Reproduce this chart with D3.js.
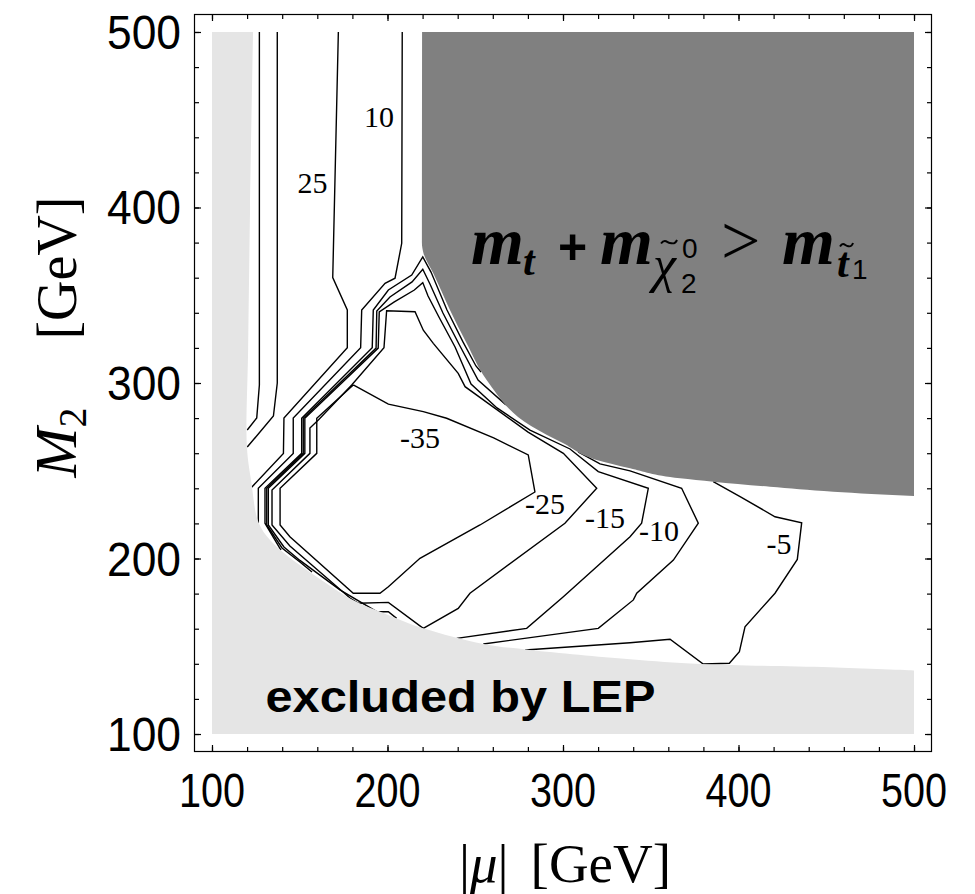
<!DOCTYPE html>
<html>
<head>
<meta charset="utf-8">
<script src="https://cdn.jsdelivr.net/npm/d3@7"></script>
<style>
  body { margin: 0; background: #fff; }
</style>
</head>
<body>
<div id="chart"></div>
<script>
// axis ticks (GeV)
const majorTicks = [100, 200, 300, 400, 500];
const minorTicks = [100, 120, 140, 160, 180, 200, 220, 240, 260, 280, 300,
                    320, 340, 360, 380, 400, 420, 440, 460, 480, 500];

// shaded regions: boundary points [|mu|, M2]
const lepBoundary = [[123.4,500],[121.7,400],[120.6,320],[119.9,263.5],[122.5,243],[126,222],
  [131,213],[140,204],[154,193.4],[167.2,184.5],[180,176.5],[200,168],[220.4,160.2],
  [254.6,151.3],[281.2,147.9],[338.2,142.6],[378.1,139.9],[452.1,138],[500,136.2]];
const stopBoundary = [[500,235.6],[454,238.1],[417.9,240.9],[385.6,243.8],[366.7,245.7],
  [338.2,251.4],[319.2,256.1],[300.2,265.6],[281.8,275.5],[256.5,301.7],[245.1,322.6],
  [235.6,341.6],[226.1,362.5],[220.5,374],[219.6,380],[219.7,500]];

// contour lines [|mu|, M2]
const contourA = [[127,500],[127,298.9],[125.5,280.1],[120.1,273.2]];
const contourB = [[137.2,500],[137.2,300],[135,281.2],[120.1,263.5]];
const contour25 = [[172,500],[168.8,360.1],[177.1,341.6],[177.1,320.1],[141,280.1],[140.7,259.9],[122.6,240.6]];
const contour10 = [[208.4,500],[208.1,379.6],[204.3,359.7],[198.6,356.8],[185.3,341.6],[184.7,320.1],
  [146.3,280.1],[146.3,259.9],[126.4,240],[126.4,220.1]];
const contourE = [[139.3,204.8],[130.2,220.1],[130.2,240],[151.1,259.9],[151.1,279.9],[191.3,320.1],
  [191.9,341.6],[200.5,353],[213.8,361.5],[220.1,371.8],[224.8,363.2],[233.9,341.6],[243,323.4],
  [250.4,309.7],[253.3,306.3]];
const contourF = [[157,192.3],[150.1,198],[139.9,206],[131.2,219.1],[131.2,240],[152,259.9],[152,279.9],
  [193.5,319.9],[193.9,341],[201.4,349],[214,357.6],[220.1,364.8],[224.2,356.4],[231.6,339.9],
  [240.7,322.2],[251.6,301.7],[267,288],[271.5,285.8]];
const contourG = [[205.2,165.9],[200.5,169.7],[193.9,169.7],[172.9,182.1],[150.1,198.9],[141,206.6],
  [132.1,219.1],[132.1,240],[152.9,259.9],[152.9,279.9],[194.7,319.9],[195.3,340.5],[203.9,346.2],
  [215.3,353],[220.1,357.2],[223.1,349.6],[229.3,337.6],[238.5,320.5],[247.6,299.4],[262.4,285.8],
  [281.2,273.2],[304,262.4],[320.1,249.5],[348.6,240],[344.8,220.1],[338.2,212.4],[300.2,178.2],
  [279.3,160.2],[239.4,154.5]];
const contourJ = [[160.6,278.9],[155.8,274.4],[155.8,259.9],[134.2,239],[134.2,219.1],[144.4,207.1],
  [178.6,177.5],[183.4,174.5],[200.5,175],[220.4,160.2],[240.3,171.6],[247,180.2],[301.1,220.1],
  [319.2,240],[300.2,259.9],[280.1,272],[244.2,297.9],[240.3,305.5],[226.1,322.6],[220.4,330.1],
  [215.7,340.6],[199.5,341.2],[198,320.1],[179.6,298.9],[160.6,278.9]];
const contourI = [[180.5,298.9],[200.5,288],[220.4,283.7],[233.7,279.9],[260.5,268.7],[280.2,259],
  [284,237.9],[252.7,219.1],[218.5,200.1],[200.5,183.9],[195.7,180.2],[180.5,180.2],[144.4,212.4],
  [138.8,219.1],[138.8,240],[159.7,259.9],[159.7,279.9],[180.5,298.9]];
const contourL4 = [[308.6,260.7],[321.1,253.9],[338.2,249.9],[367.6,240],[377.1,220.1],[362.9,199.1],
  [342,180.2],[340.1,176.4],[320.1,160.2],[254.6,151.3]];
const contourL5 = [[385.6,243.8],[400.9,235.2],[420.8,223.8],[436,220.4],[433.5,199.5],[420.8,180.2],
  [403.7,161.1],[400.5,146.9],[394.8,140.3],[379.9,139.9],[361,154],[338.2,152],[278.4,147.9]];

const contours = [contourA, contourB, contour25, contour10, contourE, contourF,
                  contourG, contourJ, contourI, contourL4, contourL5];

// contour labels
const labelText = ["10", "25", "-35", "-25", "-15", "-10", "-5"];
const labelMu   = [195.2, 157.3, 218.5, 289.7, 323.9, 354.7, 423.1];
const labelM2   = [451.6, 414.0, 269.2, 231.6, 223.4, 216.2, 208.3];

const width = 975, height = 894;
const svg = d3.select("#chart").append("svg")
    .attr("width", width)
    .attr("height", height);

const x = d3.scaleLinear().domain([89.75, 510.25]).range([194, 932]);
const y = d3.scaleLinear().domain([89.75, 510.25]).range([752, 14]);

svg.append("clipPath").attr("id", "plotclip")
  .append("rect")
    .attr("x", x(100)).attr("y", y(500))
    .attr("width", x(500) - x(100)).attr("height", y(100) - y(500));

var plot = svg.append("g").attr("clip-path", "url(#plotclip)");

// contour lines first, shaded regions painted over their ends
const line = d3.line().x(d => x(d[0])).y(d => y(d[1]));
plot.selectAll(".contour")
  .data(contours)
  .enter().append("path")
    .attr("class", "contour")
    .attr("d", line)
    .attr("fill", "none")
    .attr("stroke", "#000")
    .attr("stroke-width", 1.4)
    .attr("stroke-linejoin", "miter");

// LEP excluded region
const edge = d3.line().x(d => x(d[0])).y(d => y(d[1])).curve(d3.curveCatmullRom);
plot.append("path")
    .attr("d", `M${x(100)},${y(100)}L${x(100)},${y(500)}` +
               edge(lepBoundary).replace(/^M/, "L") +
               `L${x(500)},${y(100)}Z`)
    .attr("fill", "#e5e5e5");

// m_t + m_chi > m_stop region
const stopArea = d3.area()
    .y(d => y(d[1]))
    .x0(d => x(d[0]))
    .x1(x(500))
    .curve(d3.curveMonotoneY);
plot.append("path")
    .attr("d", stopArea(stopBoundary))
    .attr("fill", "#808080");

// frame
svg.append("rect")
    .attr("x", 194.5).attr("y", 14.5)
    .attr("width", 737).attr("height", 737)
    .attr("fill", "none")
    .attr("stroke", "#000")
    .attr("stroke-width", 1.2);

// inward ticks on all four sides
function ticks(axis, tr, vals, size) {
  svg.append("g")
    .attr("transform", tr)
    .call(axis.tickValues(vals).tickSize(-size).tickSizeOuter(0).tickFormat(""))
    .call(g => g.select(".domain").remove())
    .call(g => g.selectAll("line").attr("stroke", "#000").attr("stroke-width", 1.2));
}
ticks(d3.axisBottom(x), "translate(0,751)", minorTicks, 4);
ticks(d3.axisBottom(x), "translate(0,751)", majorTicks, 6);
ticks(d3.axisTop(x), "translate(0,15)", minorTicks, 4);
ticks(d3.axisTop(x), "translate(0,15)", majorTicks, 6);
ticks(d3.axisLeft(y), "translate(195,0)", minorTicks, 4);
ticks(d3.axisLeft(y), "translate(195,0)", majorTicks, 6);
ticks(d3.axisRight(y), "translate(931,0)", minorTicks, 4);
ticks(d3.axisRight(y), "translate(931,0)", majorTicks, 6);

// tick labels
const tickFont = "'Liberation Sans', Arial, sans-serif";
svg.selectAll(".xlab")
  .data(majorTicks)
  .enter().append("text")
    .attr("class", "xlab")
    .attr("x", d => x(d))
    .attr("y", 807)
    .attr("text-anchor", "middle")
    .attr("font-family", tickFont)
    .attr("font-size", 48)
    .attr("textLength", 66)
    .attr("lengthAdjust", "spacingAndGlyphs")
    .text(d => d);

svg.selectAll(".ylab")
  .data(majorTicks)
  .enter().append("text")
    .attr("class", "ylab")
    .attr("x", 181)
    .attr("y", d => y(d) + 17)
    .attr("text-anchor", "end")
    .attr("font-family", tickFont)
    .attr("font-size", 48)
    .attr("textLength", 74)
    .attr("lengthAdjust", "spacingAndGlyphs")
    .text(d => d);

// contour labels
svg.selectAll(".clab")
  .data(labelText)
  .enter().append("text")
    .attr("class", "clab")
    .attr("x", (d, i) => x(labelMu[i]))
    .attr("y", (d, i) => y(labelM2[i]))
    .attr("dy", "0.35em")
    .attr("text-anchor", "middle")
    .attr("font-family", "'Liberation Serif', 'DejaVu Serif', serif")
    .attr("font-size", 30)
    .text(d => d);

// region annotations
svg.append("text")
    .attr("x", x(130.5))
    .attr("y", y(112.5))
    .attr("font-family", "'Liberation Sans', Arial, sans-serif")
    .attr("font-weight", "bold")
    .attr("font-size", 45)
    .attr("textLength", 390)
    .attr("lengthAdjust", "spacingAndGlyphs")
    .text("excluded by LEP");

// m_t + m_chi20 > m_stop1, set piece by piece from an anchor
const serif = "'Liberation Serif', serif", sans = "'Liberation Sans', sans-serif";
const mathParts = [
  // text, dx, dy, size, family, weight, style
  ["m",  0,   0, 68, serif, "bold",   "italic"],
  ["t", 52,  11, 42, serif, "bold",   "italic"],
  ["+", 87,   0, 50, sans,  "bold",   "normal"],
  ["m", 129,  0, 68, serif, "bold",   "italic"],
  ["\u03C7", 182, 18, 52, serif, "normal", "italic"],
  ["0", 211, -6, 28, sans,  "normal", "normal"],
  ["2", 210, 29, 28, sans,  "normal", "normal"],
  [">", 250,  0, 70, serif, "normal", "normal"],
  ["m", 311,  0, 68, serif, "bold",   "italic"],
  ["t", 366, 13, 42, serif, "bold",   "italic"],
  ["1", 381, 15, 28, sans,  "normal", "normal"]
];
// tildes over chi and t: [dx, dy, width]
const tildes = [[190, -22, 16], [369, -19, 13]];

const mx = x(247.6), my = y(367.8);
svg.selectAll(".math")
  .data(mathParts)
  .enter().append("text")
    .attr("class", "math")
    .attr("x", d => mx + d[1])
    .attr("y", d => my + d[2])
    .attr("font-size", d => d[3])
    .attr("font-family", d => d[4])
    .attr("font-weight", d => d[5])
    .attr("font-style", d => d[6])
    .text(d => d[0]);

svg.selectAll(".tilde")
  .data(tildes)
  .enter().append("path")
    .attr("class", "tilde")
    .attr("d", d => {
      const x0 = mx + d[0], y0 = my + d[1], w = d[2];
      return `M${x0},${y0 + 1.5}C${x0 + w * 0.25},${y0 - 4} ${x0 + w * 0.4},${y0 + 1} ${x0 + w * 0.55},${y0 + 1}` +
             `S${x0 + w * 0.85},${y0 + 3} ${x0 + w},${y0 - 2}`;
    })
    .attr("fill", "none")
    .attr("stroke", "#000")
    .attr("stroke-width", 2);

// axis titles
const xt = svg.append("text")
    .attr("x", 565)
    .attr("y", 882)
    .attr("text-anchor", "middle")
    .attr("font-family", serif)
    .attr("font-size", 55);
xt.append("tspan").text("|");
xt.append("tspan").attr("font-style", "italic").text("\u03BC");
xt.append("tspan").text("|");
xt.append("tspan").attr("dx", 22).text("[GeV]");

const yt = svg.append("text")
    .attr("transform", "translate(76,337) rotate(-90)")
    .attr("text-anchor", "middle")
    .attr("font-family", serif)
    .attr("font-size", 56);
yt.append("tspan").attr("font-style", "italic").attr("font-size", 60).text("M");
yt.append("tspan").attr("font-size", 40).attr("dy", 10).text("2");
yt.append("tspan").attr("dy", -10).attr("dx", 68).text("[GeV]");
</script>
</body>
</html>
